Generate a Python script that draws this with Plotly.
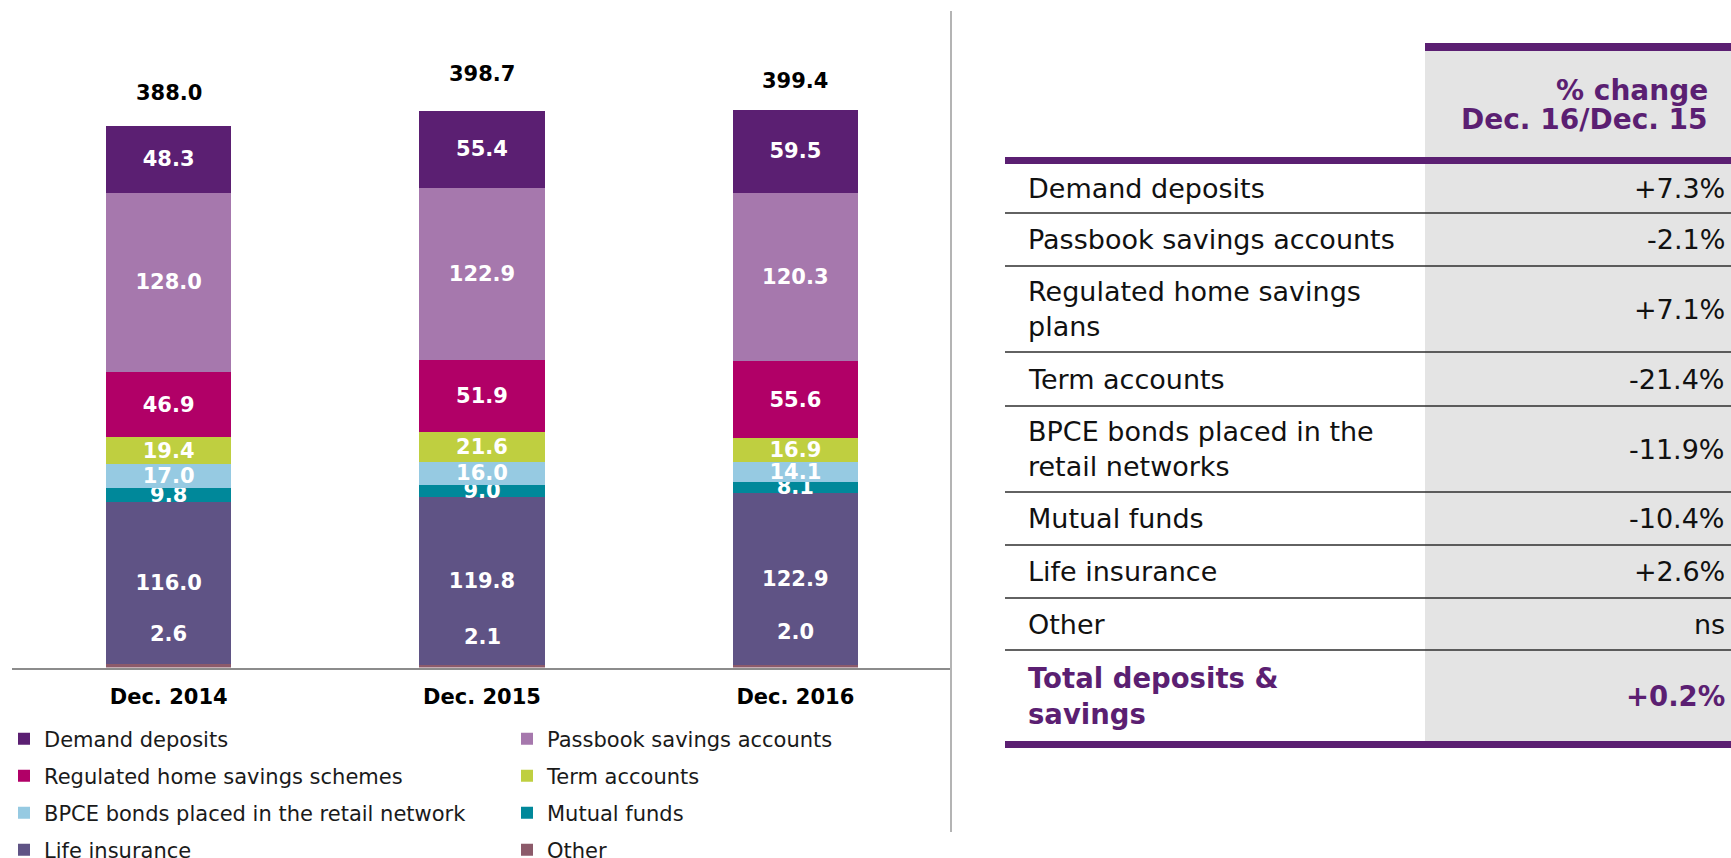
import plotly.graph_objects as go

W, H = 1731, 858
FONT = "DejaVu Sans"

# ---- stacked bar data (EUR bn), listed bottom to top of each stack ----
periods = ["Dec. 2014", "Dec. 2015", "Dec. 2016"]

other = [2.6, 2.1, 2.0]
life_insurance = [116.0, 119.8, 122.9]
mutual_funds = [9.8, 9.0, 8.1]
bpce_bonds = [17.0, 16.0, 14.1]
term_accounts = [19.4, 21.6, 16.9]
regulated_home = [46.9, 51.9, 55.6]
passbook = [128.0, 122.9, 120.3]
demand_deposits = [48.3, 55.4, 59.5]

series_names = [
    "Other",
    "Life insurance",
    "Mutual funds",
    "BPCE bonds placed in the retail network",
    "Term accounts",
    "Regulated home savings schemes",
    "Passbook savings accounts",
    "Demand deposits",
]
series_values = [other, life_insurance, mutual_funds, bpce_bonds,
                 term_accounts, regulated_home, passbook, demand_deposits]

# ---- change table ----
header_lines = ["% change", "Dec. 16/Dec. 15"]
table_labels = [
    "Demand deposits",
    "Passbook savings accounts",
    "Regulated home savings<br>plans",
    "Term accounts",
    "BPCE bonds placed in the<br>retail networks",
    "Mutual funds",
    "Life insurance",
    "Other",
]
table_changes = ["+7.3%", "-2.1%", "+7.1%", "-21.4%", "-11.9%", "-10.4%", "+2.6%", "ns"]
total_label = "Total deposits &<br>savings"
total_change = "+0.2%"

# ---- styling ----
colors = ["#8C5A6A", "#5F5385", "#00889A", "#96CAE2",
          "#BFCF40", "#B10067", "#A678AD", "#5B1F72"]
legend_ids = ["legend4", "legend4", "legend3", "legend3",
              "legend2", "legend2", "legend", "legend"]
PURPLE = "#5B1F72"
GREY_COL = "#E4E4E4"

other_label_shift = [30, 28, 33]      # px above the thin "Other" slice
total_label_shift = [33, 37, 29]      # px above each stack


def fx(x):
    return x / W


def fy(y):
    return 1 - y / H


fig = go.Figure()

for name, vals, col, lg in zip(series_names, series_values, colors, legend_ids):
    is_other = name == "Other"
    fig.add_trace(go.Bar(
        x=periods,
        y=vals,
        name=name,
        marker=dict(color=col, line=dict(width=0)),
        texttemplate=None if is_other else "%{y:.1f}",
        textposition="none" if is_other else "inside",
        insidetextanchor="middle",
        textangle=0,
        constraintext="none",
        textfont=dict(family=FONT, size=21, color="white", weight="bold"),
        legend=lg,
        hoverinfo="x+y+name",
    ))

annotations = []

# values of the thin "Other" slice, printed just above it
for i, p in enumerate(periods):
    annotations.append(dict(
        x=p, y=other[i], xref="x", yref="y", text=f"{other[i]:.1f}",
        showarrow=False, yanchor="middle", yshift=other_label_shift[i],
        font=dict(family=FONT, size=21, color="white", weight="bold"),
    ))

# stack totals
totals = [sum(vals[i] for vals in series_values) for i in range(len(periods))]
for i, p in enumerate(periods):
    annotations.append(dict(
        x=p, y=totals[i], xref="x", yref="y", text=f"{totals[i]:.1f}",
        showarrow=False, yanchor="middle", yshift=total_label_shift[i],
        font=dict(family=FONT, size=21, color="black", weight="bold"),
    ))

# ---- table geometry (pixels) ----
tbl_left, col_left, tbl_right = 1005, 1425, W
text_left, value_right, header_right = 1026, 1727, 1710
row_edges = [164, 213, 266, 352, 406, 492, 545, 598, 650, 741]

shapes = []
# separator between chart and table
shapes.append(dict(type="line", xref="paper", yref="paper",
                   x0=fx(951), x1=fx(951), y0=fy(11), y1=fy(832),
                   line=dict(color="#B4B4B4", width=2)))
# grey value column
shapes.append(dict(type="rect", xref="paper", yref="paper",
                   x0=fx(col_left), x1=fx(tbl_right), y0=fy(51), y1=fy(741),
                   fillcolor=GREY_COL, line=dict(width=0)))
# purple rules
shapes.append(dict(type="rect", xref="paper", yref="paper",
                   x0=fx(col_left), x1=fx(tbl_right), y0=fy(43), y1=fy(51),
                   fillcolor=PURPLE, line=dict(width=0)))
shapes.append(dict(type="rect", xref="paper", yref="paper",
                   x0=fx(tbl_left), x1=fx(tbl_right), y0=fy(157), y1=fy(164),
                   fillcolor=PURPLE, line=dict(width=0)))
shapes.append(dict(type="rect", xref="paper", yref="paper",
                   x0=fx(tbl_left), x1=fx(tbl_right), y0=fy(741), y1=fy(748),
                   fillcolor=PURPLE, line=dict(width=0)))
# thin row separators
for y in row_edges[1:-1]:
    shapes.append(dict(type="line", xref="paper", yref="paper",
                       x0=fx(tbl_left), x1=fx(tbl_right), y0=fy(y), y1=fy(y),
                       line=dict(color="#2E2E2E", width=1.5)))

# header text
for txt, yc in zip(header_lines, [90, 119]):
    annotations.append(dict(
        x=fx(header_right), y=fy(yc), xref="paper", yref="paper",
        text=txt, showarrow=False, xanchor="right", yanchor="middle",
        font=dict(family=FONT, size=28, color=PURPLE, weight="bold"),
    ))

# body rows
for i, (lab, chg) in enumerate(zip(table_labels, table_changes)):
    yc = (row_edges[i] + row_edges[i + 1]) / 2
    annotations.append(dict(
        x=fx(text_left), y=fy(yc), xref="paper", yref="paper",
        text=lab, showarrow=False, xanchor="left", yanchor="middle", align="left",
        font=dict(family=FONT, size=27, color="#111111"),
    ))
    annotations.append(dict(
        x=fx(value_right), y=fy(yc), xref="paper", yref="paper",
        text=chg, showarrow=False, xanchor="right", yanchor="middle",
        font=dict(family=FONT, size=27, color="#111111"),
    ))

# total row
yc = (row_edges[-2] + row_edges[-1]) / 2
annotations.append(dict(
    x=fx(text_left), y=fy(yc), xref="paper", yref="paper",
    text=total_label, showarrow=False, xanchor="left", yanchor="middle", align="left",
    font=dict(family=FONT, size=27.5, color=PURPLE, weight="bold"),
))
annotations.append(dict(
    x=fx(value_right), y=fy(yc), xref="paper", yref="paper",
    text=total_change, showarrow=False, xanchor="right", yanchor="middle",
    font=dict(family=FONT, size=27.5, color=PURPLE, weight="bold"),
))

legend_style = dict(
    orientation="h", xanchor="left", yanchor="middle", x=fx(4),
    traceorder="reversed", entrywidth=458, entrywidthmode="pixels",
    font=dict(family=FONT, size=21, color="#1A1A1A"),
    bgcolor="rgba(0,0,0,0)", borderwidth=0,
)

fig.update_layout(
    width=W, height=H,
    margin=dict(l=0, r=0, t=0, b=0, autoexpand=False),
    paper_bgcolor="white", plot_bgcolor="white",
    barmode="stack", bargap=0.6,
    font=dict(family=FONT),
    xaxis=dict(
        type="category", range=[-0.5, 2.5], domain=[fx(12), fx(952)],
        showline=True, linecolor="#8C8C8C", linewidth=2,
        showgrid=False, zeroline=False, ticks="",
        tickfont=dict(family=FONT, size=21, color="black", weight="bold"),
        ticklabelstandoff=9, fixedrange=True,
    ),
    yaxis=dict(
        range=[0, 420], domain=[fy(667.5), fy(80.8)],
        visible=False, fixedrange=True,
    ),
    legend=dict(legend_style, y=fy(739)),
    legend2=dict(legend_style, y=fy(776)),
    legend3=dict(legend_style, y=fy(813)),
    legend4=dict(legend_style, y=fy(850)),
    shapes=shapes,
    annotations=annotations,
)

fig.write_html("out.html")
